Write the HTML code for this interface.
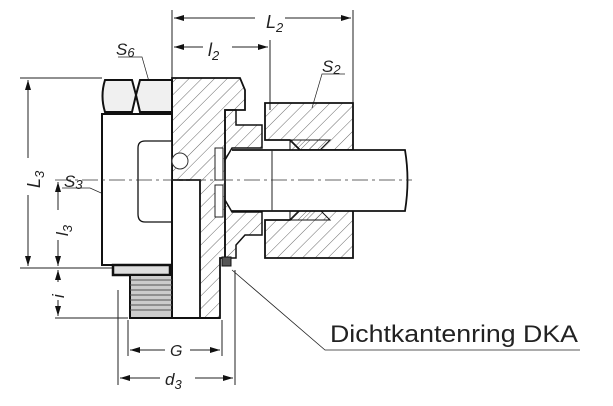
<!DOCTYPE html>
<html><head><meta charset="utf-8"><style>
html,body{margin:0;padding:0;background:#fff}
svg{display:block}
text{font-family:"Liberation Sans",sans-serif;fill:#222}
</style></head><body>
<svg width="613" height="406" viewBox="0 0 613 406" xmlns="http://www.w3.org/2000/svg">
<defs>
<pattern id="h" patternUnits="userSpaceOnUse" width="9" height="9" patternTransform="rotate(45)">
<line x1="0" y1="0" x2="0" y2="9" stroke="#444" stroke-width="0.8"/></pattern>
<pattern id="h2" patternUnits="userSpaceOnUse" width="6" height="6" patternTransform="rotate(45)">
<line x1="0" y1="0" x2="0" y2="6" stroke="#444" stroke-width="0.8"/></pattern>
<marker id="a" markerWidth="10" markerHeight="6" refX="10" refY="3" orient="auto-start-reverse"><path d="M0,0 L10,3 L0,6z" fill="#111"/></marker>
</defs>
<g stroke="#222" fill="none" stroke-width="1">
<line x1="172" y1="10" x2="172" y2="80"/>
<line x1="353" y1="10" x2="353" y2="104"/>
<line x1="270" y1="40" x2="270" y2="110"/>
<line x1="174" y1="18" x2="255" y2="18" marker-start="url(#a)"/>
<line x1="285" y1="18" x2="351" y2="18" marker-end="url(#a)"/>
<line x1="174" y1="47" x2="203" y2="47" marker-start="url(#a)"/>
<line x1="232" y1="47" x2="268" y2="47" marker-end="url(#a)"/>
<line x1="20" y1="78" x2="102" y2="78"/>
<line x1="20" y1="268" x2="125" y2="268"/>
<line x1="55" y1="318" x2="128" y2="318"/>
<line x1="28" y1="80" x2="28" y2="158" marker-start="url(#a)"/>
<line x1="28" y1="195" x2="28" y2="266" marker-end="url(#a)"/>
<line x1="58" y1="182" x2="58" y2="210" marker-start="url(#a)"/>
<line x1="58" y1="240" x2="58" y2="266" marker-end="url(#a)"/>
<line x1="58" y1="270" x2="58" y2="282" marker-start="url(#a)"/>
<line x1="58" y1="300" x2="58" y2="316" marker-end="url(#a)"/>
<line x1="128" y1="320" x2="128" y2="356"/>
<line x1="118" y1="290" x2="118" y2="385"/>
<line x1="222" y1="320" x2="222" y2="356"/>
<line x1="235" y1="270" x2="235" y2="385"/>
<line x1="130" y1="350" x2="165" y2="350" marker-start="url(#a)"/>
<line x1="190" y1="350" x2="220" y2="350" marker-end="url(#a)"/>
<line x1="120" y1="378" x2="160" y2="378" marker-start="url(#a)"/>
<line x1="195" y1="378" x2="233" y2="378" marker-end="url(#a)"/>
<polyline points="118,57 142,57 152,92" stroke-width="0.7"/>
<polyline points="345,74 322,74 312,108" stroke-width="0.7"/>
<polyline points="62,188 90,188 146,213" stroke-width="0.7"/>
<polyline points="232,270 325,350 580,350" stroke-width="0.8"/>
</g>
<g stroke="#111" stroke-width="2" fill="#fff">
<path d="M105,80 L132,80 L136,95 L132,112 L105,112 Q100,96 105,80 Z" fill="#f0f0f0"/>
<path d="M136,95 L140,80 L172,80 L172,112 L140,112 Z" fill="#f0f0f0"/>
<rect x="102" y="114" width="70" height="151" fill="#fff"/>
<path d="M172,141 L145,141 Q138,141 138,148 L138,214 Q138,222 145,222 L172,222" stroke-width="1.3"/>
<rect x="113" y="265" width="57" height="10" fill="#ddd" stroke-width="2.5"/>
<rect x="130" y="275" width="42" height="43" fill="#ccc"/>
<line x1="172" y1="180" x2="172" y2="318"/>
<line x1="130" y1="318" x2="220" y2="318"/>
</g>
<g stroke="#555" stroke-width="1">
<path d="M130,280 H172 M130,285 H172 M130,290 H172 M130,295 H172 M130,300 H172 M130,305 H172 M130,310 H172"/>
</g>
<path d="M172,78 L240,78 L245,90 L245,110 L225,110 L225,258 L220,258 L220,318 L200,318 L200,180 L172,180 Z" fill="url(#h)" stroke="#111" stroke-width="1.8"/>
<path d="M225,110 L236,110 L236,125 L245,125 L262,125 L262,148 L232,148 L225,160 Z" fill="url(#h)" stroke="#111" stroke-width="1.5"/>
<path d="M225,200 L232,212 L262,212 L262,235 L245,235 L236,245 L236,258 L225,258 Z" fill="url(#h)" stroke="#111" stroke-width="1.5"/>
<circle cx="180" cy="161" r="8" fill="#fff" stroke="#333"/>
<rect x="215" y="148" width="8" height="32" fill="#fff" stroke="#222"/>
<rect x="215" y="185" width="8" height="32" fill="#fff" stroke="#222"/>
<rect x="222" y="257" width="9" height="9" fill="#555" stroke="#111"/>
<path d="M265,103 L353,103 L353,150 L300,150 L290,140 L265,140 Z" fill="url(#h)" stroke="#111" stroke-width="1.8"/>
<path d="M265,220 L290,220 L300,210 L353,210 L353,258 L265,258 Z" fill="url(#h)" stroke="#111" stroke-width="1.8"/>
<path d="M290,140 L330,140 L320,150 L290,150 Z M290,220 L330,220 L320,210 L290,210 Z" fill="url(#h2)" stroke="#111"/>
<path d="M232,150 L405,150 Q410,180 405,211 L232,211" fill="#fff" stroke="#111" stroke-width="1.8"/>
<line x1="272" y1="150" x2="272" y2="211" stroke="#222" stroke-width="1"/>
<line x1="55" y1="180" x2="412" y2="180" stroke="#333" stroke-dasharray="16,4,3,4" stroke-width="0.8"/>
<text x="266" y="28" font-size="18" font-style="italic">L<tspan font-size="13" dy="4">2</tspan></text>
<text x="208" y="56" font-size="18" font-style="italic">l<tspan font-size="13" dy="4">2</tspan></text>
<text x="116" y="55" font-size="17" font-style="italic">S<tspan font-size="13" dy="2">6</tspan></text>
<text x="322" y="72" font-size="17" font-style="italic">S<tspan font-size="13" dy="2">2</tspan></text>
<text x="64" y="187" font-size="17" font-style="italic">S<tspan font-size="13" dy="2">3</tspan></text>
<text x="0" y="0" font-size="18" font-style="italic" transform="translate(40,188) rotate(-90)">L<tspan font-size="13" dy="4">3</tspan></text>
<text x="0" y="0" font-size="17" font-style="italic" transform="translate(68,236) rotate(-90)">l<tspan font-size="13" dy="4">3</tspan></text>
<text x="0" y="0" font-size="17" font-style="italic" transform="translate(64,298) rotate(-90)">i</text>
<text x="170" y="356" font-size="16" font-style="italic">G</text>
<text x="165" y="385" font-size="17" font-style="italic">d<tspan font-size="13" dy="4">3</tspan></text>
<text x="330" y="342" font-size="24" fill="#333" textLength="248" lengthAdjust="spacingAndGlyphs">Dichtkantenring DKA</text>
</svg>
</body></html>
